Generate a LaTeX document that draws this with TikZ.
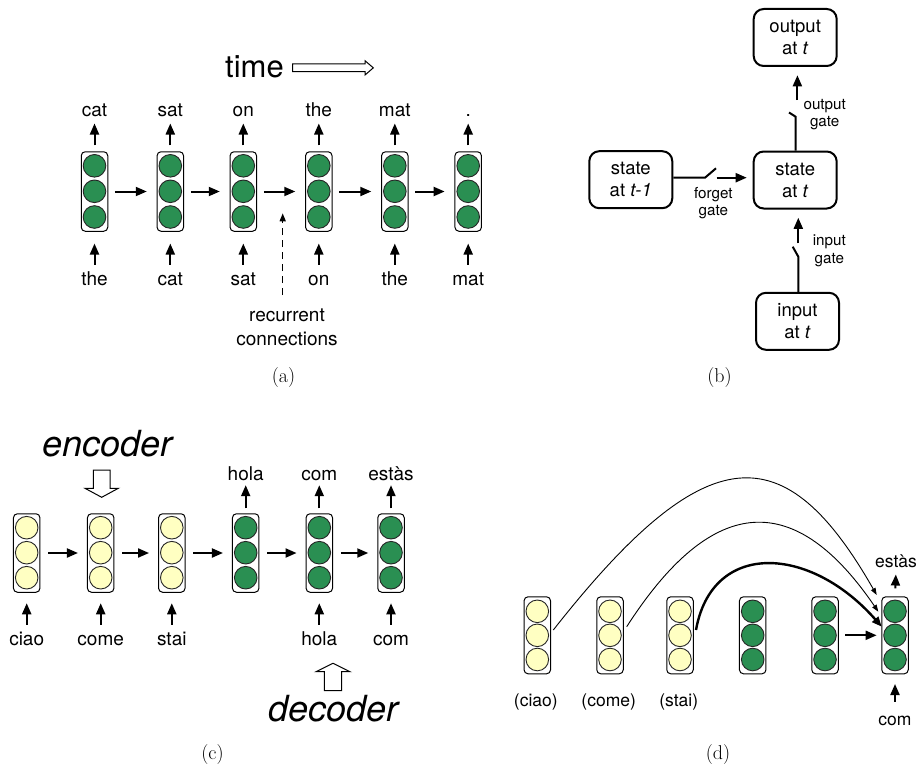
\documentclass[tikz,border=0pt]{standalone}
\usepackage{fontspec}
\newfontfamily\hv{TeX Gyre Heros}
\usetikzlibrary{arrows.meta,calc}
\definecolor{cgreen}{RGB}{42,143,82}
\definecolor{cyellow}{RGB}{255,255,194}
\tikzset{
 colbox/.style={draw=black, line width=1pt, rounded corners=4pt, minimum width=26.5pt, minimum height=79.5pt, inner sep=0pt},
 unitg/.style={circle, draw=black!85, line width=0.9pt, fill=cgreen, minimum size=22.6pt, inner sep=0pt},
 unity/.style={unitg, fill=cyellow},
 arr/.style={line width=2pt, -{Triangle[length=11pt,width=9pt]}},
 lbl/.style={font=\hv\fontsize{19}{22}\selectfont, inner sep=0pt, anchor=base, text height=14pt, text depth=4pt},
 dlbl/.style={font=\hv\fontsize{17.5}{21}\selectfont, inner sep=0pt, anchor=base, text height=14pt, text depth=4pt},
 gbox/.style={draw, line width=2pt, rounded corners=10pt, minimum width=83pt, minimum height=57pt, align=center, font=\hv\fontsize{18.5}{22}\selectfont, inner sep=0pt},
 glbl/.style={font=\hv\fontsize{15.2}{17.5}\selectfont, align=center, inner sep=0pt},
 gline/.style={line width=2pt},
 captext/.style={font=\fontsize{20}{23}\selectfont, inner sep=0pt, anchor=base},
 hollow/.style={draw=black, line width=1pt, fill=white},
 bigit/.style={font=\hv\itshape\fontsize{36}{40}\selectfont, inner sep=0pt, anchor=base},
 dasharr/.style={line width=1.3pt, dash pattern=on 7pt off 5pt, -{Triangle[length=8pt,width=6pt]}},
 thincurve/.style={line width=0.9pt, -{Triangle[length=7pt,width=5pt]}},
 thickcurve/.style={line width=2.4pt, -{Triangle[length=10pt,width=8pt]}},
}
\begin{document}
\begin{tikzpicture}[x=1pt,y=-1pt]
\useasboundingbox (0,0) rectangle (918,768);
\fill[white] (0,0) rectangle (918,768);

% ================= (a) =================
\node[font=\hv\fontsize{31}{34}\selectfont, inner sep=0pt, anchor=base] (time) at (254.5,77.3) {time};
\draw[hollow] (292.7,64) -- (365,64) -- (365,60.7) -- (373.3,67.85) -- (365,75) -- (365,71.7) -- (292.7,71.7) -- cycle;

\foreach \i/\x/\toplab/\botlab in {1/94.5/cat/the, 2/170.3/sat/cat, 3/243.3/on/sat, 4/318.8/the/on, 5/394.8/mat/the, 6/468.2/./mat} {
  \node[colbox, minimum height=79.5pt] (a\i) at (\x,191.5) {};
  \node[unitg] (a\i-1) at (\x,165.8) {};
  \node[unitg] (a\i-2) at (\x,191.3) {};
  \node[unitg] (a\i-3) at (\x,217) {};
  \node[lbl] (ta\i) at (\x,116.7) {\toplab};
  \node[lbl] (ba\i) at (\x,285.7) {\botlab};
  \draw[arr, shorten <=6pt, shorten >=2.6pt] (a\i.north) -- (ta\i.south);
  \draw[arr, shorten <=6.7pt, shorten >=11.8pt] (ba\i.north) -- (a\i.south);
}
\foreach \i/\j in {1/2,2/3,3/4,4/5,5/6}
  \draw[arr, shorten <=6.7pt, shorten >=9.8pt] (a\i.east) -- (a\j.west);

\node[lbl] (rec1) at (287,321.5) {recurrent};
\node[lbl] (rec2) at (287,345.5) {connections};
\coordinate (rbot) at (282.7,295);
\coordinate (rtip) at (282.7,213.3);
\draw[dasharr] (rbot) -- (rtip);

\node[captext] (capa) at (283.5,382) {(a)};

% ================= (b) =================
\node[gbox] (out) at (795.2,37.5) {output\\at \textit{t}};
\node[gbox] (st) at (795.2,180) {state\\at \textit{t}};
\node[gbox] (st1) at (630.8,179.7) {state\\at \textit{t-1}};
\node[gbox] (inp) at (797.5,321.3) {input\\at \textit{t}};

\coordinate (f1) at (705,177.7);
\coordinate (f2) at (716,168.3);
\coordinate (f3) at (716.7,177.7);
\draw[gline] (st1.east |- f1) -- (f1) -- (f2);
\draw[arr, shorten >=6pt] (f3) -- (st.west |- f3);

\coordinate (o1) at (795.6,116.7);
\coordinate (o2) at (789,112.5);
\coordinate (o3) at (797.4,100);
\draw[gline] (st.north -| o1) -- (o1) -- (o2);
\draw[arr, shorten >=8.3pt] (o3) -- (out.south -| o3);

\coordinate (i1) at (798.3,256.7);
\coordinate (i2) at (792.7,246.7);
\coordinate (i3) at (798.3,243.3);
\draw[gline] (inp.north -| i1) -- (i1) -- (i2);
\draw[arr, shorten >=8.3pt] (i3) -- (st.south -| i3);

\node[glbl] (og) at (824.7,114.5) {output\\gate};
\node[glbl] (fg) at (713.3,203) {forget\\gate};
\node[glbl] (ig) at (829.3,251) {input\\gate};

\node[captext] (capb) at (719.5,382) {(b)};

% ================= (c) =================
\node[bigit] (enc) at (107.5,456.7) {encoder};
\draw[hollow] (93.3,470) -- (110,470) -- (110,488.3) -- (118.3,488.3) -- (101.7,497.3) -- (85,488.3) -- (93.3,488.3) -- cycle;

\foreach \i/\x/\st in {1/26.7/unity, 2/100.7/unity, 3/171.8/unity, 4/245.7/unitg, 5/319.3/unitg, 6/391/unitg} {
  \node[colbox, minimum height=78.5pt] (c\i) at (\x,553) {};
  \node[\st] (c\i-1) at (\x,527.7) {};
  \node[\st] (c\i-2) at (\x,552.7) {};
  \node[\st] (c\i-3) at (\x,577.7) {};
}
\foreach \i/\x/\toplab in {4/245.7/hola, 5/319.3/com, 6/391/estàs} {
  \node[lbl] (tc\i) at (\x,480) {\toplab};
  \draw[arr, shorten <=5pt, shorten >=1pt] (c\i.north) -- (tc\i.south);
}
\foreach \i/\x/\botlab in {1/26.7/ciao, 2/100.7/come, 3/171.8/stai, 5/319.3/hola, 6/391/com} {
  \node[lbl] (bc\i) at (\x,645.5) {\botlab};
  \draw[arr, shorten <=6.5pt, shorten >=10.5pt] (bc\i.north) -- (c\i.south);
}
\foreach \i/\j in {1/2,2/3,3/4,4/5,5/6}
  \draw[arr, shorten <=7.7pt, shorten >=9pt] (c\i.east) -- (c\j.west);

\draw[hollow] (324.3,690.7) -- (341.7,690.7) -- (341.7,671.7) -- (350,671.7) -- (333,663.3) -- (316,671.7) -- (324.3,671.7) -- cycle;
\node[bigit] (dec) at (333.3,721) {decoder};

\node[captext] (capc) at (212.5,759.5) {(c)};

% ================= (d) =================
\foreach \i/\x/\st in {1/537.3/unity, 2/610/unity, 3/680/unity, 4/752.7/unitg, 5/825/unitg, 6/895/unitg} {
  \node[colbox, minimum height=77pt] (d\i) at (\x,635.3) {};
  \node[\st] (d\i-1) at (\x,611.3) {};
  \node[\st] (d\i-2) at (\x,635.3) {};
  \node[\st] (d\i-3) at (\x,659.5) {};
}
\node[dlbl] (bd1) at (535.8,706.4) {(ciao)};
\node[dlbl] (bd2) at (608.7,706.4) {(come)};
\node[dlbl] (bd3) at (678.7,706.4) {(stai)};
\node[dlbl] (td6) at (896,567) {estàs};
\node[dlbl] (bd6) at (895,725) {com};
\draw[arr, shorten <=8pt, shorten >=3.3pt] (d6.north) -- (td6.south);
\draw[arr, shorten <=9.3pt, shorten >=9.7pt] (bd6.north) -- (d6.south);
\draw[arr, shorten <=6.3pt, shorten >=4.6pt] (d5.east) -- (d6.west);

\coordinate (s1) at (553.3,630);
\coordinate (s2) at (626.7,626.7);
\coordinate (s3) at (696,630);
\coordinate (e1) at (876.7,595);
\coordinate (e2) at (878.3,611.7);
\coordinate (e3) at (881.7,626.7);
\draw[thincurve] (s1) .. controls (707,434.5) and (785,434.5) .. (e1);
\draw[thincurve] (s2) .. controls (714,491) and (796,491) .. (e2);
\draw[thickcurve] (s3) .. controls (712,540) and (810,545) .. (e3);

\node[captext] (capd) at (718,759.5) {(d)};
\end{tikzpicture}
\end{document}
